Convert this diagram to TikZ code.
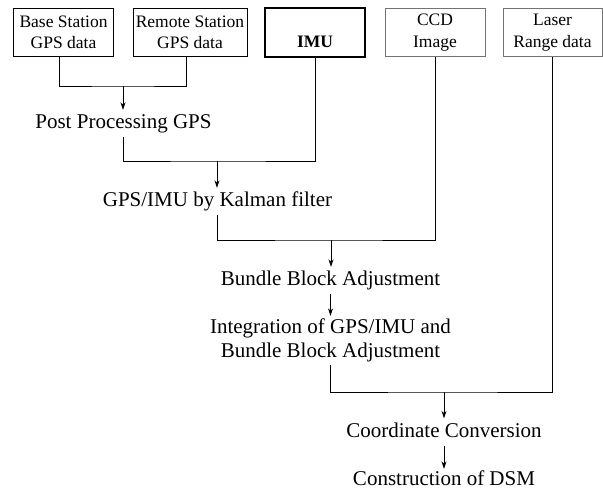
\documentclass[tikz,border=0pt]{standalone}
\usepackage{fontspec}
\setmainfont{Liberation Serif}
\usepackage{tikz}
\usetikzlibrary{arrows.meta}

\begin{document}
\begin{tikzpicture}[x=1pt,y=-1pt,>={Stealth[length=7.5pt,width=5pt]}]
    % input boxes on top, processing steps below
    \tikzstyle{source}=[rectangle,draw=black,line width=0.8pt,minimum width=100pt,
    minimum height=48pt,inner sep=0pt,align=center,font=\fontsize{17.5}{21.5}\selectfont]
    \tikzstyle{source-grey}=[source,draw=black!55]
    \tikzstyle{process}=[inner xsep=2pt,inner ysep=3pt,text height=16pt,text depth=5pt,
    font=\fontsize{21}{24}\selectfont]
    \tikzstyle{link}=[line width=0.9pt]
    \tikzstyle{flow}=[link,->]

    \useasboundingbox (0,0) rectangle (603,489);

    \node [source]               (base)   at (63.5,32.5)  {Base Station\\GPS data};
    \node [source,minimum width=114pt] (remote) at (190,32.5) {Remote Station\\GPS data};
    \node [source,line width=1.6pt,font=\fontsize{17.5}{21}\selectfont\bfseries,
           text height=40pt,text depth=9pt] (imu) at (315,32.5) {IMU};
    \node [source-grey]          (ccd)    at (435,32.5)   {CCD\\Image};
    \node [source-grey,minimum width=99pt] (laser) at (552.5,32.5) {Laser\\Range data};

    \node [process] (pp)  at (123.5,123.5) {Post Processing GPS};
    \node [process] (kal) at (217.5,201.5) {GPS/IMU by Kalman filter};
    \node [process] (bba) at (330.5,280.5) {Bundle Block Adjustment};
    \node [inner sep=0pt,minimum height=49pt,align=center,font=\fontsize{21}{24}\selectfont]
          (integ) at (330.5,340.5) {Integration of GPS/IMU and\\Bundle Block Adjustment};
    \node [process] (cc)  at (444,432) {Coordinate Conversion};
    \node [process,inner ysep=0pt,text depth=0pt] (dsm) at (444,477) {Construction of DSM};

    \coordinate (m1) at (123,86);
    \coordinate (m2) at (217,161);
    \coordinate (m3) at (331,240);
    \coordinate (m4) at (444,392);

    \draw [link] ([xshift=-4.5pt]base.south) |- (m1) -| ([xshift=-4pt]remote.south);
    \draw [flow] (m1) -- (m1 |- pp.north);

    \draw [link] (pp.south) |- (m2) -| (imu.south);
    \draw [flow] (m2) -- (m2 |- kal.north);

    \draw [link] (kal.south) |- (m3) -| (ccd.south);
    \draw [flow] (m3) -- (m3 |- bba.north);
    \draw [flow] (bba) -- (integ);

    \draw [link] (integ.south) |- (m4) -| (laser.south);
    \draw [flow] (m4) -- (m4 |- cc.north);
    \draw [flow] (cc) -- (dsm);
\end{tikzpicture}
\end{document}
